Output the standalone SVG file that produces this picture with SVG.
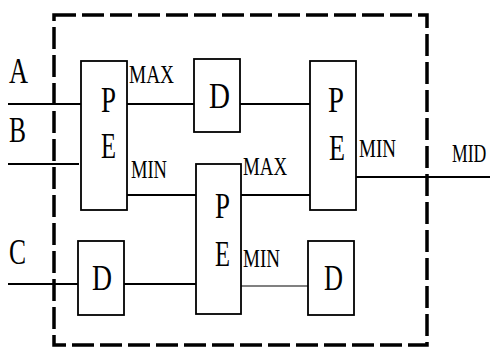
<svg xmlns="http://www.w3.org/2000/svg" width="490" height="348" viewBox="0 0 490 348">
<style>
.box{fill:#fff;stroke:#000;stroke-width:1.8}
.w{fill:none;stroke:#000;stroke-width:1.8}
.g{stroke:#808080}
.frame{fill:none;stroke:#000;stroke-width:3.5;stroke-dasharray:22,6}
text{font-family:'Liberation Serif','DejaVu Serif','Times New Roman',serif;fill:#000}
.big{font-size:36px}
.sm{font-size:26px}
</style>
<rect class="frame" x="54" y="15" width="373" height="330"/>
<g id="connectors">
<line class="w" x1="8" y1="104" x2="81" y2="104"/>
<line class="w" x1="8" y1="164" x2="79" y2="164"/>
<line class="w" x1="8" y1="284" x2="78" y2="284"/>
<line class="w" x1="127" y1="104" x2="194" y2="104"/>
<line class="w" x1="240" y1="104" x2="310" y2="104"/>
<line class="w" x1="127" y1="195" x2="196" y2="195"/>
<line class="w" x1="124" y1="284" x2="196" y2="284"/>
<line class="w" x1="241" y1="195" x2="310" y2="195"/>
<line class="w g" x1="241" y1="286" x2="308" y2="286"/>
<line class="w" x1="356" y1="177" x2="490" y2="177"/>
</g>
<g id="labels">
<text class="big" x="9" y="83" textLength="19" lengthAdjust="spacingAndGlyphs">A</text>
<text class="big" x="9" y="142" textLength="17" lengthAdjust="spacingAndGlyphs">B</text>
<text class="big" x="9" y="264" textLength="17" lengthAdjust="spacingAndGlyphs">C</text>
<text class="sm" x="129" y="83" textLength="45" lengthAdjust="spacingAndGlyphs">MAX</text>
<text class="sm" x="131" y="178" textLength="36" lengthAdjust="spacingAndGlyphs">MIN</text>
<text class="sm" x="243" y="175" textLength="44" lengthAdjust="spacingAndGlyphs">MAX</text>
<text class="sm" x="243" y="267" textLength="37" lengthAdjust="spacingAndGlyphs">MIN</text>
<text class="sm" x="359" y="157" textLength="37" lengthAdjust="spacingAndGlyphs">MIN</text>
<text class="sm" transform="translate(452,162) scale(0.68,1)">MID</text>
</g>
<g id="pe1">
<rect class="box" x="81" y="61" width="46" height="149"/>
<text class="big" x="101" y="112" textLength="15" lengthAdjust="spacingAndGlyphs">P</text>
<text class="big" x="101" y="158" textLength="15" lengthAdjust="spacingAndGlyphs">E</text>
</g>
<g id="d1">
<rect class="box" x="194" y="59" width="46" height="73"/>
<text class="big" x="209" y="108" textLength="21" lengthAdjust="spacingAndGlyphs">D</text>
</g>
<g id="pe3">
<rect class="box" x="310" y="61" width="46" height="149"/>
<text class="big" x="328" y="112" textLength="16" lengthAdjust="spacingAndGlyphs">P</text>
<text class="big" x="329" y="160" textLength="16" lengthAdjust="spacingAndGlyphs">E</text>
</g>
<g id="pe2">
<rect class="box" x="196" y="164" width="45" height="150"/>
<text class="big" x="215" y="218" textLength="15" lengthAdjust="spacingAndGlyphs">P</text>
<text class="big" x="215" y="266" textLength="15" lengthAdjust="spacingAndGlyphs">E</text>
</g>
<g id="d2">
<rect class="box" x="78" y="241" width="46" height="74"/>
<text class="big" x="92" y="290" textLength="20" lengthAdjust="spacingAndGlyphs">D</text>
</g>
<g id="d3">
<rect class="box" x="308" y="241" width="46" height="74"/>
<text class="big" x="324" y="290" textLength="19" lengthAdjust="spacingAndGlyphs">D</text>
</g>
</svg>
